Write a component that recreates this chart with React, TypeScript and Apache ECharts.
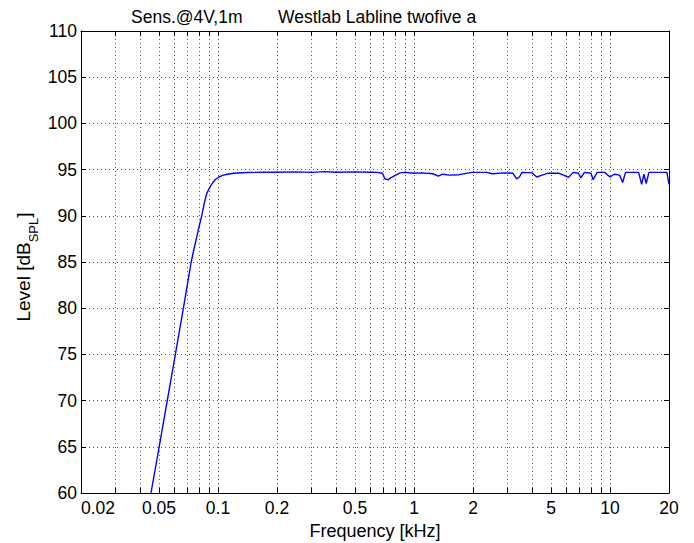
import React, { useEffect, useRef } from "react";
import * as echarts from "echarts";

const freqKHz = [
  0.0455, 0.0501, 0.0551, 0.0606, 0.0666, 0.0697, 0.073, 0.0752, 0.0775, 0.08,
  0.0826, 0.085, 0.0875, 0.092, 0.0966, 0.101, 0.1064, 0.112, 0.1197, 0.14,
  0.17, 0.2, 0.25, 0.3, 0.35, 0.4, 0.5, 0.6, 0.65, 0.69,
  0.71, 0.74, 0.76, 0.79, 0.85, 0.9, 1.0, 1.1, 1.25, 1.33,
  1.4, 1.52, 1.7, 1.98, 2.35, 2.5, 2.9, 3.2, 3.34, 3.45,
  3.56, 4.0, 4.23, 4.5, 4.8, 5.5, 5.8, 6.13, 6.5, 6.9,
  7.1, 7.4, 8.0, 8.2, 8.6, 9.4, 10.0, 10.5, 11.2, 11.6,
  12.0, 14.0, 14.5, 14.9, 15.3, 15.8, 19.5, 20.0,
];
const levelDb = [
  60, 65, 70, 75, 80, 82.5, 85, 86.3, 87.5, 88.8,
  90, 91.3, 92.4, 93.3, 93.9, 94.2, 94.4, 94.5, 94.6, 94.68,
  94.72, 94.72, 94.75, 94.7, 94.78, 94.72, 94.75, 94.72, 94.7, 94.6,
  94.0, 93.9, 94.1, 94.3, 94.65, 94.7, 94.6, 94.65, 94.55, 94.3,
  94.5, 94.4, 94.45, 94.7, 94.7, 94.55, 94.65, 94.6, 94.0, 94.2,
  94.7, 94.65, 94.2, 94.4, 94.6, 94.6, 94.4, 94.15, 94.7, 94.6,
  94.1, 94.7, 94.6, 93.9, 94.7, 94.7, 94.2, 94.5, 94.4, 93.6,
  94.7, 94.7, 93.4, 94.5, 93.5, 94.7, 94.7, 93.4,
];

const xTickValues = [
  0.02, 0.03, 0.04, 0.05, 0.06, 0.07, 0.08, 0.09,
  0.1, 0.2, 0.3, 0.4, 0.5, 0.6, 0.7, 0.8, 0.9,
  1, 2, 3, 4, 5, 6, 7, 8, 9, 10, 20,
];
const xLabelValues = [0.02, 0.05, 0.1, 0.2, 0.5, 1, 2, 5, 10, 20];
const xMin = 0.02;
const xMax = 20;
const yMin = 60;
const yMax = 110;
const yStep = 5;

const titleLeft = "Sens.@4V,1m";
const titleRight = "Westlab Labline twofive a";
const xName = "Frequency [kHz]";

const FONT = "Liberation Sans, Arial, Helvetica, sans-serif";
const FS = 17.5;

export default function App() {
  const ref = useRef<HTMLDivElement>(null);
  useEffect(() => {
    document.body.style.margin = "0";
    const chart = echarts.init(ref.current!, null, { renderer: "svg" });
    const fmt = (v: number) => String(parseFloat(Number(v).toPrecision(3)));
    const gridLine = { show: true, lineStyle: { color: "#555", type: [1, 3], width: 1 } };
    const xBase = {
      type: "log",
      logBase: 10,
      min: xMin,
      max: xMax,
      gridIndex: 0,
      axisLine: { show: true, lineStyle: { color: "#000", width: 1 } },
      axisTick: { show: true, inside: true, length: 5, customValues: xTickValues, lineStyle: { color: "#000", width: 1 } },
    };
    const yBase = {
      type: "value",
      min: yMin,
      max: yMax,
      interval: yStep,
      gridIndex: 0,
      axisLine: { show: true, lineStyle: { color: "#000", width: 1 } },
      axisTick: { show: true, inside: true, length: 5, lineStyle: { color: "#000", width: 1 } },
    };
    chart.setOption({
      animation: false,
      textStyle: { fontFamily: FONT },
      grid: { left: 81, right: 25, top: 31, bottom: 50, containLabel: false, outerBoundsMode: "none" },
      xAxis: [
        {
          ...xBase,
          position: "bottom",
          name: xName,
          nameLocation: "middle",
          nameGap: 26,
          nameTextStyle: { fontSize: 18, color: "#000", fontFamily: FONT },
          axisLabel: {
            show: true,
            customValues: xLabelValues,
            formatter: fmt,
            margin: 6,
            fontSize: FS,
            color: "#000",
            fontFamily: FONT,
            alignMinLabel: "left",
            alignMaxLabel: "center",
          },
          splitLine: gridLine,
        },
        {
          ...xBase,
          position: "top",
          axisLabel: { show: false },
          splitLine: { show: false },
        },
      ],
      yAxis: [
        {
          ...yBase,
          position: "left",
          axisLabel: { show: true, margin: 4, fontSize: FS, color: "#000", fontFamily: FONT },
          splitLine: gridLine,
        },
        {
          ...yBase,
          position: "right",
          axisLabel: { show: false },
          splitLine: { show: false },
        },
      ],
      graphic: [
        { type: "text", left: 131, top: 8, style: { text: titleLeft, font: `${FS}px ${FONT}`, fill: "#000" } },
        { type: "text", left: 278, top: 8, style: { text: titleRight, font: `${FS}px ${FONT}`, fill: "#000" } },
        {
          type: "text",
          x: 23,
          y: 267,
          rotation: Math.PI / 2,
          style: {
            text: "{a|Level [dB}{s|SPL}{a|]}",
            align: "center",
            verticalAlign: "middle",
            fill: "#000",
            rich: {
              a: { fontSize: 19, lineHeight: 34, fontFamily: FONT, fill: "#000" },
              s: { fontSize: 13, lineHeight: 13, verticalAlign: "bottom", fontFamily: FONT, fill: "#000" },
            },
          },
        },
      ],
      series: [
        {
          type: "line",
          xAxisIndex: 0,
          yAxisIndex: 0,
          showSymbol: false,
          symbol: "none",
          clip: true,
          lineStyle: { color: "#0000ff", width: 1.4 },
          data: freqKHz.map((f, i) => [f, levelDb[i]]),
        },
      ],
    });
    return () => chart.dispose();
  }, []);
  return <div ref={ref} style={{ width: 694, height: 543 }} />;
}
